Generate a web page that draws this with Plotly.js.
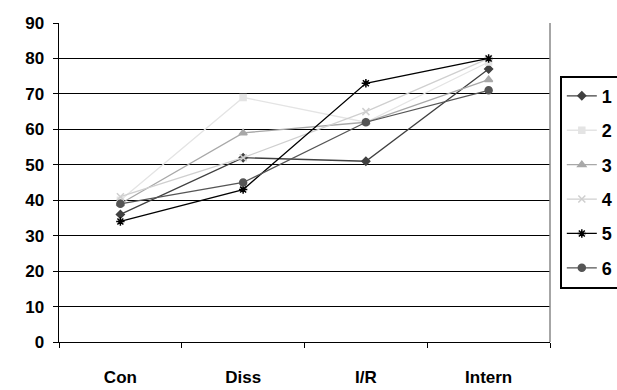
<!DOCTYPE html>
<html><head><meta charset="utf-8">
<script src="https://cdn.plot.ly/plotly-3.0.1.min.js"></script>
<style>body{margin:0;background:#fff}#c{width:617px;height:390px}</style>
</head><body><div id="c"></div>
<script>
const categories = ["Con", "Diss", "I/R", "Intern"];
const s1 = [36, 52, 51, 77];
const s2 = [40, 69, 62, 79];
const s3 = [39, 59, 62, 74];
const s4 = [41, 52, 65, 80];
const s5 = [34, 43, 73, 80];
const s6 = [39, 45, 62, 71];
const names = ["1", "2", "3", "4", "5", "6"];
const yTicks = [0, 10, 20, 30, 40, 50, 60, 70, 80, 90];

const series = [s1, s2, s3, s4, s5, s6];
const colors = ["#404040", "#e4e4e4", "#a8a8a8", "#cfcfcf", "#000000", "#555555"];
const symbols = ["diamond", "square", "triangle-up", "x-thin-open", "asterisk-open", "circle"];
const sizes = [6, 6, 7, 7, 7, 7];

const traces = series.map((s, i) => ({
  x: categories, y: s, name: "<b>" + names[i] + "</b>", type: "scatter", mode: "lines+markers",
  legendgroup: "g" + i,
  line: {color: colors[i], width: 1.3},
  marker: {symbol: symbols[i], size: sizes[i], color: colors[i], line: {color: colors[i], width: 1.5}}
}));

const layout = {
  width: 617, height: 390,
  margin: {l: 59, r: 67, t: 23, b: 48, autoexpand: false},
  paper_bgcolor: "#fff", plot_bgcolor: "#fff",
  font: {family: "Liberation Sans, Arial, sans-serif", size: 17, color: "#000"},
  showlegend: true,
  legend: {x: 1.02, xanchor: "left", y: 0.835, yanchor: "top",
    bordercolor: "#000", borderwidth: 2, bgcolor: "#fff",
    font: {size: 18}, tracegroupgap: 8, itemwidth: 30},
  xaxis: {type: "category", range: [-0.5, 3.5], tickson: "boundaries", ticks: "outside",
    tickvals: categories, ticktext: categories.map(c => "<b>" + c + "</b>"),
    ticklen: 5, tickcolor: "#000", showgrid: false, showline: true, linecolor: "#000", linewidth: 1,
    ticklabelstandoff: 20, tickfont: {size: 17}, zeroline: false, fixedrange: true},
  yaxis: {range: [0, 90], tickvals: yTicks, ticktext: yTicks.map(v => "<b>" + v + "</b>"), ticks: "outside", ticklen: 5,
    tickcolor: "#000", showgrid: true, gridcolor: "#000", gridwidth: 1, showline: true,
    linecolor: "#000", linewidth: 1.5, zeroline: false, tickfont: {size: 17},
    ticklabelstandoff: 5, fixedrange: true},
  shapes: [{type: "line", xref: "paper", yref: "paper", x0: 1, x1: 1, y0: 0, y1: 1,
    line: {color: "#888", width: 1.5}}]
};
Plotly.newPlot("c", traces, layout, {displayModeBar: false, staticPlot: true});
</script></body></html>
